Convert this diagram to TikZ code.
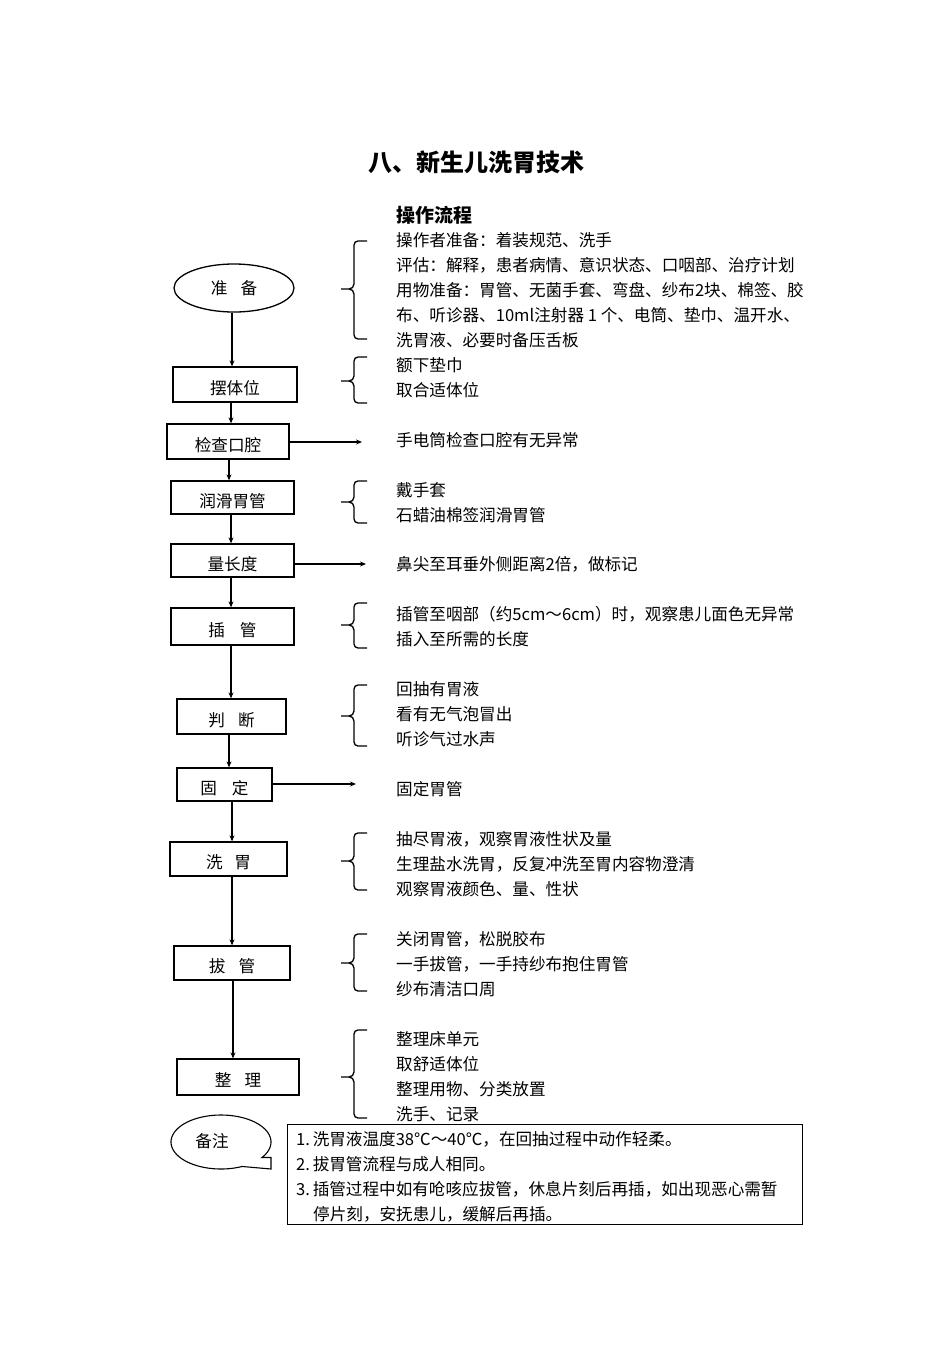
\documentclass[tikz,border=0pt]{standalone}
\usepackage{fontspec}
\setmainfont{Noto Sans CJK SC}
\usetikzlibrary{shapes.geometric,arrows.meta}
\newcommand{\mybrace}[3]{%
  \draw[brc] (367,#1) -- (358,#1) to[out=180,in=90] (354,#1+4) -- (354,#2-5) to[out=-90,in=0] (349,#2) -- (341,#2);
  \draw[brc] (349,#2) to[out=0,in=90] (354,#2+5) -- (354,#3-4) to[out=-90,in=180] (358,#3) -- (367,#3);}
\begin{document}
\begin{tikzpicture}[x=1pt,y=-1pt,
  box/.style={draw,line width=1.3pt,inner sep=0pt,text height=19pt,text depth=0pt,font=\fontsize{16.6}{18}\selectfont},
  txt/.style={anchor=west,inner sep=0pt,font=\fontsize{16.6}{18}\selectfont},
  arr/.style={line width=1.1pt,-{Stealth[length=6pt,width=5pt]}},
  brc/.style={line width=1.3pt}]
\useasboundingbox (0,0) rectangle (952,1347);
\fill[white] (0,0) rectangle (952,1347);
% title
\node[inner sep=0pt,font=\fontsize{24}{26}\selectfont\bfseries] (title) at (476,162) {八、新生儿洗胃技术};
\node[txt,font=\fontsize{19}{20}\selectfont\bfseries] (sub) at (396,215) {操作流程};
% flow nodes
\node[draw,line width=1.3pt,inner sep=0pt,font=\fontsize{16.6}{18}\selectfont,ellipse,minimum width=120pt,minimum height=48pt] (e) at (234,288) {准\hspace{0.8em}备};
\node[box,minimum width=124pt,minimum height=35pt] (b1) at (235,384.5) {摆体位};
\node[box,minimum width=122pt,minimum height=35pt] (b2) at (228,441.5) {检查口腔};
\node[box,minimum width=123pt,minimum height=33pt] (b3) at (232.5,497.5) {润滑胃管};
\node[box,minimum width=123pt,minimum height=33pt] (b4) at (232.5,560.5) {量长度};
\node[box,minimum width=123pt,minimum height=37pt] (b5) at (232.5,626.5) {插\hspace{0.9em}管};
\node[box,minimum width=109pt,minimum height=35pt] (b6) at (231.5,716.5) {判\hspace{0.8em}断};
\node[box,minimum width=95pt,minimum height=33pt] (b7) at (224.5,784.5) {固\hspace{0.9em}定};
\node[box,minimum width=117pt,minimum height=34pt] (b8) at (228.5,859) {洗\hspace{0.7em}胃};
\node[box,minimum width=116pt,minimum height=34pt] (b9) at (232,963) {拔\hspace{0.8em}管};
\node[box,minimum width=122pt,minimum height=36pt] (b10) at (238,1077) {整\hspace{0.8em}理};
% vertical arrows
\draw[arr] (e.south -| 232,0) -- (b1.north -| 232,0);
\draw[arr] (b1.south -| 231,0) -- (b2.north -| 231,0);
\draw[arr] (b2.south -| 229,0) -- (b3.north -| 229,0);
\draw[arr] (b3.south -| 231,0) -- (b4.north -| 231,0);
\draw[arr] (b4.south -| 231,0) -- (b5.north -| 231,0);
\draw[arr] (b5.south -| 231,0) -- (b6.north -| 231,0);
\draw[arr] (b6.south -| 229,0) -- (b7.north -| 229,0);
\draw[arr] (b7.south -| 232,0) -- (b8.north -| 232,0);
\draw[arr] (b8.south -| 232,0) -- (b9.north -| 232,0);
\draw[arr] (b9.south -| 233,0) -- (b10.north -| 233,0);
% horizontal arrows
\coordinate (h1) at (362,442);
\coordinate (h2) at (366,564);
\coordinate (h3) at (356,784);
\draw[arr] (b2.east |- h1) -- (h1);
\draw[arr] (b4.east |- h2) -- (h2);
\draw[arr] (b7.east |- h3) -- (h3);
% braces
\mybrace{241}{289}{339}
\mybrace{357}{381}{403}
\mybrace{481}{502}{523}
\mybrace{603}{625}{648}
\mybrace{685}{716}{746}
\mybrace{833}{861}{890}
\mybrace{934}{963}{991}
\mybrace{1030}{1077}{1118}
% texts
\node[txt] (t1) at (396,240) {操作者准备：着装规范、洗手};
\node[txt] (t2) at (396,265) {评估：解释，患者病情、意识状态、口咽部、治疗计划};
\node[txt] (t3) at (396,290) {用物准备：胃管、无菌手套、弯盘、纱布2块、棉签、胶};
\node[txt] (t4) at (396,315) {布、听诊器、10ml注射器 1 个、电筒、垫巾、温开水、};
\node[txt] (t5) at (396,340) {洗胃液、必要时备压舌板};
\node[txt] (t6) at (396,365) {额下垫巾};
\node[txt] (t7) at (396,390) {取合适体位};
\node[txt] (t8) at (396,440) {手电筒检查口腔有无异常};
\node[txt] (t9) at (396,490) {戴手套};
\node[txt] (t10) at (396,515) {石蜡油棉签润滑胃管};
\node[txt] (t11) at (396,564) {鼻尖至耳垂外侧距离2倍，做标记};
\node[txt] (t12) at (396,614) {插管至咽部（约5cm～6cm）时，观察患儿面色无异常};
\node[txt] (t13) at (396,639) {插入至所需的长度};
\node[txt] (t14) at (396,689) {回抽有胃液};
\node[txt] (t15) at (396,714) {看有无气泡冒出};
\node[txt] (t16) at (396,739) {听诊气过水声};
\node[txt] (t17) at (396,789) {固定胃管};
\node[txt] (t18) at (396,839) {抽尽胃液，观察胃液性状及量};
\node[txt] (t19) at (396,864) {生理盐水洗胃，反复冲洗至胃内容物澄清};
\node[txt] (t20) at (396,889) {观察胃液颜色、量、性状};
\node[txt] (t21) at (396,939) {关闭胃管，松脱胶布};
\node[txt] (t22) at (396,964) {一手拔管，一手持纱布抱住胃管};
\node[txt] (t23) at (396,989) {纱布清洁口周};
\node[txt] (t24) at (396,1039) {整理床单元};
\node[txt] (t25) at (396,1064) {取舒适体位};
\node[txt] (t26) at (396,1089) {整理用物、分类放置};
\node[txt] (t27) at (396,1114) {洗手、记录};
% callout
\draw[line width=1.1pt] plot[domain=65:395,samples=80,smooth] ({221+50*cos(\x)},{1142+27*sin(\x)}) -- (271,1157.5) -- (271,1169) -- cycle;
\node[txt,anchor=center] (bz) at (212,1141) {备注};
% note box
\node[draw,line width=0.9pt,inner sep=0pt,minimum width=515pt,minimum height=100pt] (nb) at (544.5,1174) {};
\node[txt] (n1) at (296,1139) {1.\,洗胃液温度38℃～40℃，在回抽过程中动作轻柔。};
\node[txt] (n2) at (296,1164) {2.\,拔胃管流程与成人相同。};
\node[txt] (n3) at (296,1189) {3.\,插管过程中如有呛咳应拔管，休息片刻后再插，如出现恶心需暂};
\node[txt] (n4) at (313,1214) {停片刻，安抚患儿，缓解后再插。};
\end{tikzpicture}
\end{document}
